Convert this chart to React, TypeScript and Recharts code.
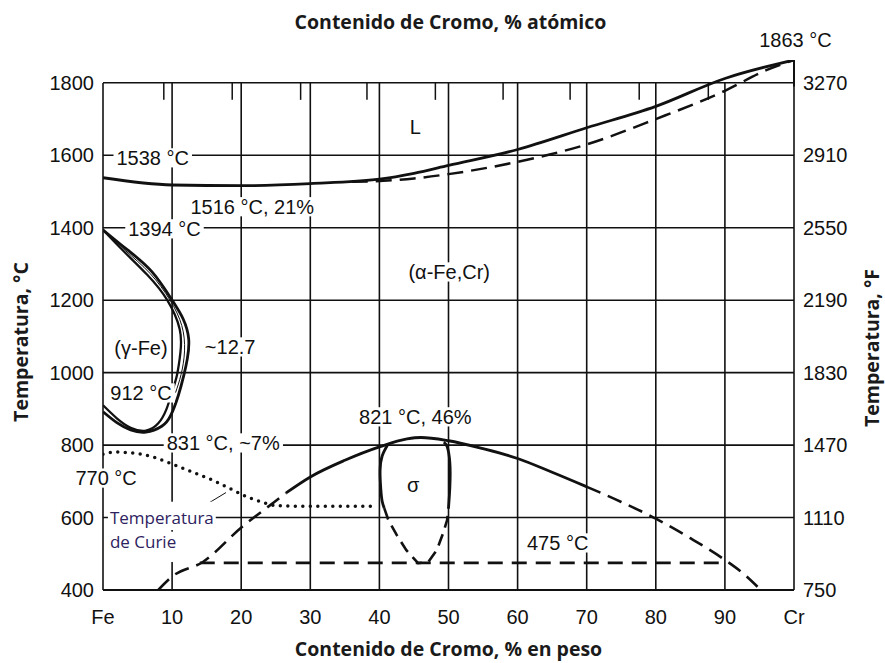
import { useLayoutEffect, useRef, useState } from 'react';
import {
  ComposedChart,
  CartesianGrid,
  Line,
  XAxis,
  YAxis,
  ReferenceLine,
  ReferenceDot,
} from 'recharts';

const INK = '#111';
const SANS = '"Liberation Sans", Arial, Helvetica, sans-serif';
const TITLE_FONT = '"Open Sans", "DejaVu Sans", sans-serif';

// axes
const wtTicks = [0, 10, 20, 30, 40, 50, 60, 70, 80, 90, 100];
const wtLabels = ['Fe', '10', '20', '30', '40', '50', '60', '70', '80', '90', 'Cr'];
const tempTicks = [400, 600, 800, 1000, 1200, 1400, 1600, 1800];
const fahrenheitLabels = ['750', '1110', '1470', '1830', '2190', '2550', '2910', '3270'];
const atomicTickPos = [8.8, 18.7, 28.6, 38.2, 48.1, 57.9, 67.6, 77.6, 87.6];
const atomicLabels = ['10', '20', '30', '40', '50', '60', '70', '80', '90'];

// liquidus / solidus
const liqW = [0, 10, 20, 30, 40, 45, 50, 60, 70, 80, 90, 100];
const liqT = [1538, 1518, 1516, 1522, 1534, 1550, 1572, 1616, 1676, 1735, 1812, 1863];
const solW = [36, 40, 45, 50, 60, 70, 80, 90, 96, 100];
const solT = [1527, 1529, 1536, 1548, 1582, 1630, 1700, 1778, 1835, 1863];

// gamma loop
const gOutW = [0, 3.6, 7.1, 10, 11.6, 12.4, 12.2, 11.7, 10.9, 9.8, 8.5, 6.2, 4, 2, 0];
const gOutT = [1394, 1338, 1278, 1200, 1148, 1093, 1038, 993, 937, 882, 852, 836, 842, 862, 892];
const gInW = [0, 3, 6.4, 9.3, 11.1, 11.2, 10.7, 10, 9.2, 8, 6.2, 4, 2, 0];
const gInT = [1394, 1335, 1270, 1200, 1120, 1055, 993, 947, 900, 860, 840, 848, 874, 910];
const gMidW = [0.5, 3.3, 6.8, 9.7, 11.4, 11.8, 11.3, 10.5];
const gMidT = [1388, 1336, 1274, 1200, 1130, 1060, 995, 945];

// Curie temperature
const curieW = [0, 1.7, 3.6, 5.5, 7.4, 10, 13, 16, 18.5, 21, 23.5, 25, 30, 35, 39.2];
const curieT = [775, 781, 779, 775, 766, 748, 725, 702, 679, 656, 640, 633, 631, 631, 631];

// sigma solvus
const sigDashLW = [8, 10, 14.5, 20.1, 24.8, 26.5];
const sigDashLT = [400, 437, 478, 574, 643, 668];
const sigSolidW = [26.5, 30, 35, 40, 44, 46, 50, 55, 60, 65, 70];
const sigSolidT = [668, 712, 758, 795, 817, 821, 812, 790, 763, 725, 685];
const sigDashRW = [70, 75, 80, 85, 90, 93, 95.2];
const sigDashRT = [685, 643, 597, 543, 483, 440, 400];

// sigma phase field
const loopLW = [41.2, 40.4, 40.1, 40.2, 40.4, 40.7];
const loopLT = [801, 770, 730, 680, 645, 626];
const loopDashW = [40.7, 41.3, 42.5, 43.9, 45.6, 47.1, 48.3, 49.2, 49.8, 50.0];
const loopDashT = [626, 593, 552, 510, 474, 478, 510, 556, 593, 626];
const loopRW = [50.0, 50.2, 50.2, 49.8, 49.3];
const loopRT = [626, 685, 750, 796, 808];

const ordW = [14, 90];
const ordT = [475, 475];

const notes = [
  { text: 'L', w: 45.2, t: 1678 },
  { text: '1538 °C', w: 7.2, t: 1593 },
  { text: '1516 °C, 21%', w: 21.6, t: 1458 },
  { text: '1394 °C', w: 8.9, t: 1397 },
  { text: '(α-Fe,Cr)', w: 50.1, t: 1278 },
  { text: '(γ-Fe)', w: 5.5, t: 1068 },
  { text: '~12.7', w: 18.4, t: 1071 },
  { text: '912 °C', w: 5.5, t: 944 },
  { text: '831 °C, ~7%', w: 17.4, t: 806 },
  { text: '770 °C', w: 0.45, t: 709 },
  { text: '821 °C, 46%', w: 45.2, t: 878 },
  { text: 'σ', w: 44.9, t: 690 },
  { text: '475 °C', w: 65.8, t: 530 },
];

type Pt = { w: number; t: number };
const pts = (w: number[], t: number[]): Pt[] => w.map((x, i) => ({ w: x, t: t[i] }));

const tickStyle = { fontSize: 20, fill: INK, fontFamily: SANS };
const titleStyle = { fontSize: 19.5, fontWeight: 700, fill: '#1a1a1a', fontFamily: TITLE_FONT };

// text on a white patch, so the grid is broken behind it like in the print
function BoxedText(props: {
  x: number;
  y: number;
  text: string;
  anchor?: 'start' | 'middle' | 'end';
  size?: number;
  family?: string;
  fill?: string;
  padX?: number;
  padTop?: number;
  padBottom?: number;
  boxed?: boolean;
}) {
  const {
    x, y, text, anchor = 'middle', size = 20, family = SANS, fill = INK,
    padX = 3, padTop = 0, padBottom = 0, boxed = true,
  } = props;
  const ref = useRef<SVGTextElement>(null);
  const [box, setBox] = useState<{ x: number; w: number } | null>(null);
  useLayoutEffect(() => {
    if (ref.current) {
      const b = ref.current.getBBox();
      setBox({ x: b.x, w: b.width });
    }
  }, [x, y, text]);
  return (
    <g>
      {boxed && box && (
        <rect
          x={box.x - padX}
          y={y - size * 0.48 - padTop}
          width={box.w + padX * 2}
          height={size * 0.96 + padTop + padBottom}
          fill="#fff"
        />
      )}
      <text ref={ref} x={x} y={y} textAnchor={anchor} dominantBaseline="central" fontFamily={family} fontSize={size} fill={fill}>
        {text}
      </text>
    </g>
  );
}

function note(text: string, dx = 0, dy = 0, boxed = true) {
  return (props: any) => {
    const vb = props.viewBox ?? { x: 0, y: 0, width: 0, height: 0 };
    return (
      <BoxedText
        x={vb.x + (vb.width || 0) / 2 + dx}
        y={vb.y + (vb.height || 0) / 2 + dy}
        text={text}
        boxed={boxed}
      />
    );
  };
}

function curieNote(props: any) {
  const vb = props.viewBox ?? { x: 0, y: 0 };
  const common = { anchor: 'start' as const, size: 17, family: TITLE_FONT, fill: '#2e2260' };
  return (
    <g>
      <BoxedText {...common} x={vb.x} y={vb.y - 12} text="Temperatura" padX={2} padTop={8} padBottom={4} />
      <BoxedText {...common} x={vb.x} y={vb.y + 12} text="de Curie" padX={2} padTop={2} padBottom={12} />
    </g>
  );
}

const axisTitle = (text: string, fx: (vb: any) => [number, number], rotate = false) => (props: any) => {
  const vb = props.viewBox ?? { x: 0, y: 0, width: 0, height: 0 };
  const [x, y] = fx(vb);
  return (
    <text
      x={x}
      y={y}
      textAnchor="middle"
      dominantBaseline={rotate ? 'central' : 'auto'}
      transform={rotate ? `rotate(-90 ${x} ${y})` : undefined}
      style={titleStyle}
    >
      {text}
    </text>
  );
};

const lineProps = {
  xAxisId: 'wt',
  yAxisId: 'C',
  dataKey: 't',
  stroke: INK,
  dot: false,
  activeDot: false,
  isAnimationActive: false,
} as const;

export default function App() {
  return (
    <div style={{ position: 'absolute', left: 0, top: 0, width: 885, height: 663, background: '#fff' }}>
      <ComposedChart width={885} height={663} margin={{ top: 30, right: 31, bottom: 43, left: 43 }}>
        <XAxis
          xAxisId="wt"
          dataKey="w"
          type="number"
          domain={[0, 100]}
          ticks={wtTicks}
          interval={0}
          tickFormatter={(v: number) => wtLabels[wtTicks.indexOf(v)]}
          tick={tickStyle}
          tickLine={false}
          axisLine={false}
          tickSize={0}
          tickMargin={20}
          height={30}
          allowDataOverflow
          label={axisTitle('Contenido de Cromo, % en peso', (vb) => [vb.x + vb.width / 2, vb.y + 66])}
        />
        <XAxis
          xAxisId="at"
          orientation="top"
          type="number"
          domain={[0, 100]}
          ticks={atomicTickPos}
          interval={0}
          tickFormatter={(v: number) => atomicLabels[atomicTickPos.indexOf(v)]}
          tick={tickStyle}
          tickLine={false}
          axisLine={false}
          tickSize={0}
          tickMargin={-12}
          height={30}
          allowDataOverflow
          label={axisTitle('Contenido de Cromo, % atómico', (vb) => [vb.x + vb.width / 2 + 2, vb.y - 1])}
        />
        <YAxis
          yAxisId="C"
          type="number"
          domain={[400, 1863]}
          ticks={tempTicks}
          interval={0}
          tick={tickStyle}
          tickLine={false}
          axisLine={false}
          tickSize={0}
          tickMargin={9}
          width={60}
          allowDataOverflow
          label={axisTitle('Temperatura, °C', (vb) => [20, vb.y + vb.height / 2 + 17], true)}
        />
        <YAxis
          yAxisId="F"
          orientation="right"
          type="number"
          domain={[400, 1863]}
          ticks={tempTicks}
          interval={0}
          tickFormatter={(v: number) => fahrenheitLabels[tempTicks.indexOf(v)]}
          tick={tickStyle}
          tickLine={false}
          axisLine={false}
          tickSize={0}
          tickMargin={9}
          width={60}
          allowDataOverflow
          label={axisTitle('Temperatura, °F', (vb) => [vb.x + 77, vb.y + vb.height / 2 + 23], true)}
        />

        {/* grid and frame: 400..1800 °C only, the frame runs up to 1863 on the Cr side */}
        <CartesianGrid
          xAxisId="wt"
          yAxisId="C"
          y={83}
          height={507}
          syncWithTicks
          stroke={INK}
          strokeWidth={1.6}
          strokeOpacity={1}
        />
        <ReferenceLine xAxisId="wt" yAxisId="C" segment={[{ x: 0, y: 400 }, { x: 100, y: 400 }]} stroke={INK} strokeWidth={2.2} />
        <ReferenceLine xAxisId="wt" yAxisId="C" segment={[{ x: 100, y: 1790 }, { x: 100, y: 1863 }]} stroke={INK} strokeWidth={2} />
        {atomicTickPos.map((p) => (
          <ReferenceLine
            key={`a${p}`}
            xAxisId="wt"
            yAxisId="C"
            segment={[{ x: p, y: 1800 }, { x: p, y: 1753 }]}
            stroke={INK}
            strokeWidth={1.5}
          />
        ))}

        {/* phase boundaries */}
        <Line {...lineProps} data={pts(liqW, liqT)} type="monotone" strokeWidth={2.8} />
        <Line {...lineProps} data={pts(solW, solT)} type="monotone" strokeWidth={2.5} strokeDasharray="16 8" />
        <Line {...lineProps} data={pts(gOutW, gOutT)} type="natural" strokeWidth={2.8} />
        <Line {...lineProps} data={pts(gInW, gInT)} type="natural" strokeWidth={2.3} />
        <Line {...lineProps} data={pts(gMidW, gMidT)} type="natural" strokeWidth={1} />
        <Line {...lineProps} data={pts(curieW, curieT)} type="monotone" strokeWidth={3.5} strokeDasharray="0 7.5" strokeLinecap="round" />
        <Line {...lineProps} data={pts(sigDashLW, sigDashLT)} type="monotone" strokeWidth={2.6} strokeDasharray="15 8" />
        <Line {...lineProps} data={pts(sigSolidW, sigSolidT)} type="monotone" strokeWidth={2.8} />
        <Line {...lineProps} data={pts(sigDashRW, sigDashRT)} type="monotone" strokeWidth={2.6} strokeDasharray="15 8" />
        <Line {...lineProps} data={pts(loopLW, loopLT)} type="natural" strokeWidth={2.8} />
        <Line {...lineProps} data={pts(loopDashW, loopDashT)} type="linear" strokeWidth={2.6} strokeDasharray="12 7" />
        <Line {...lineProps} data={pts(loopRW, loopRT)} type="natural" strokeWidth={2.8} />
        <Line {...lineProps} data={pts(ordW, ordT)} type="linear" strokeWidth={2.6} strokeDasharray="15 9" />

        {/* annotations */}
        {notes.map((n) => (
          <ReferenceDot
            key={n.text}
            xAxisId="wt"
            yAxisId="C"
            x={n.w}
            y={n.t}
            r={0}
            fill="none"
            stroke="none"
            label={note(n.text)}
          />
        ))}
        <ReferenceDot xAxisId="wt" yAxisId="C" x={100} y={1863} r={0} fill="none" stroke="none" label={note('1863 °C', 1.5, -20, false)} />
        <ReferenceDot xAxisId="wt" yAxisId="C" x={1.0} y={566} r={0} fill="none" stroke="none" label={curieNote} />
        <ReferenceLine xAxisId="wt" yAxisId="C" segment={[{ x: 14.6, y: 632 }, { x: 17.8, y: 669 }]} stroke={INK} strokeWidth={1} />
      </ComposedChart>
    </div>
  );
}
